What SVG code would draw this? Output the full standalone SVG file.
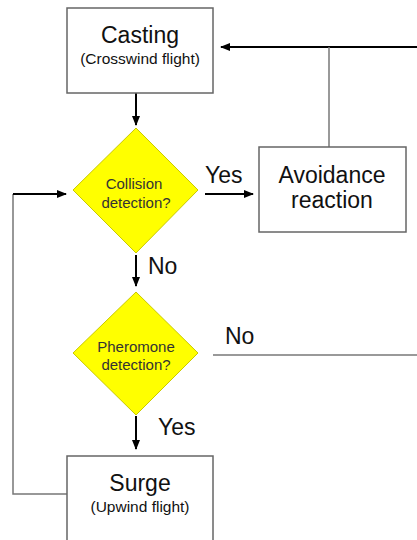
<svg xmlns="http://www.w3.org/2000/svg" width="417" height="540" viewBox="0 0 417 540">
<defs>
<marker id="ah" markerWidth="10" markerHeight="8" refX="9" refY="4" orient="auto" markerUnits="userSpaceOnUse">
<path d="M0,0 L10,4 L0,8 z" fill="#000"/>
</marker>
<style>
.box{fill:#fff;stroke:#666;stroke-width:1.5}
.dia{fill:#ffff00;stroke:#c9c900;stroke-width:1}
.big{font-family:"Liberation Sans",Arial,sans-serif;font-size:23px;fill:#111;text-anchor:middle}
.sm{font-family:"Liberation Sans",Arial,sans-serif;font-size:15.5px;fill:#111;text-anchor:middle}
.dt{font-family:"Liberation Sans",Arial,sans-serif;font-size:15px;fill:#333;text-anchor:middle}
.lbl{font-family:"Liberation Sans",Arial,sans-serif;font-size:23px;fill:#111}
.arr{stroke:#000;stroke-width:2;fill:none;marker-end:url(#ah)}
.ln{stroke:#777;stroke-width:1.5;fill:none}
</style>
</defs>
<g id="connectors">
<path class="arr" d="M417,47 H221"/>
<path class="ln" d="M329,47 V147"/>
<path class="arr" d="M136,93 V125"/>
<path class="arr" d="M205,194 H253"/>
<path class="arr" d="M136,255 V286"/>
<path class="ln" d="M213,355 H417"/>
<path class="arr" d="M136,416 V449"/>
<path class="ln" d="M67,494 H13 V194"/>
<path class="arr" d="M13,194 H66"/>
</g>
<g id="casting">
<rect class="box" x="67" y="8" width="146" height="85"/>
<text class="big" x="140" y="43">Casting</text>
<text class="sm" x="140" y="64">(Crosswind flight)</text>
</g>
<g id="collision">
<polygon class="dia" points="136,128 198,190 136,253 73,190"/>
<text class="dt" x="134" y="189">Collision</text>
<text class="dt" x="136" y="208">detection?</text>
</g>
<g id="avoidance">
<rect class="box" x="259" y="147" width="147" height="85"/>
<text class="big" x="332" y="183">Avoidance</text>
<text class="big" x="332" y="208">reaction</text>
</g>
<g id="pheromone">
<polygon class="dia" points="136,292 198,353 136,415 73,353"/>
<text class="dt" x="136" y="352">Pheromone</text>
<text class="dt" x="136" y="370">detection?</text>
</g>
<g id="surge">
<rect class="box" x="67" y="456" width="146" height="95"/>
<text class="big" x="140" y="491">Surge</text>
<text class="sm" x="140" y="512">(Upwind flight)</text>
</g>
<g id="labels">
<text class="lbl" x="205" y="183">Yes</text>
<text class="lbl" x="148" y="274">No</text>
<text class="lbl" x="225" y="344">No</text>
<text class="lbl" x="158" y="435">Yes</text>
</g>
</svg>
